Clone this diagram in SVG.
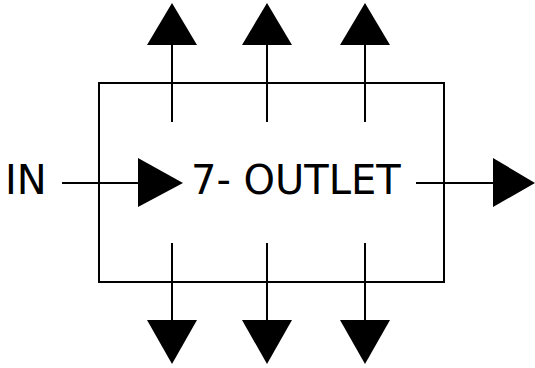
<svg xmlns="http://www.w3.org/2000/svg" width="535" height="368" viewBox="0 0 535 368">
<style>
.ln{stroke:#000;stroke-width:2;fill:none}
.ah{fill:#000}
.t{font-family:"DejaVu Sans",Verdana,sans-serif;font-size:40px;fill:#000}
</style>
<rect width="535" height="368" fill="#fff"/>
<g id="outlet">
<rect class="ln" x="99" y="83" width="345" height="199"/>
<text class="t" x="191" y="194">7- OUTLET</text>
</g>
<g id="in-label">
<text class="t" x="5" y="194">IN</text>
</g>
<g id="connectors">
<line class="ln" x1="62" y1="183" x2="139" y2="183"/>
<polygon class="ah" points="138,158 183,183 138,207"/>
<line class="ln" x1="416" y1="183" x2="494" y2="183"/>
<polygon class="ah" points="493,158 535,183 493,207"/>
<line class="ln" x1="172" y1="122" x2="172" y2="44"/>
<line class="ln" x1="267" y1="122" x2="267" y2="44"/>
<line class="ln" x1="365" y1="122" x2="365" y2="44"/>
<polygon class="ah" points="147,45 172,3 197,45"/>
<polygon class="ah" points="242,45 267,3 292,45"/>
<polygon class="ah" points="340,45 365,3 390,45"/>
<line class="ln" x1="172" y1="243" x2="172" y2="321"/>
<line class="ln" x1="267" y1="243" x2="267" y2="321"/>
<line class="ln" x1="365" y1="243" x2="365" y2="321"/>
<polygon class="ah" points="147,320 172,364 197,320"/>
<polygon class="ah" points="242,320 267,364 292,320"/>
<polygon class="ah" points="340,320 365,364 390,320"/>
</g>
</svg>
